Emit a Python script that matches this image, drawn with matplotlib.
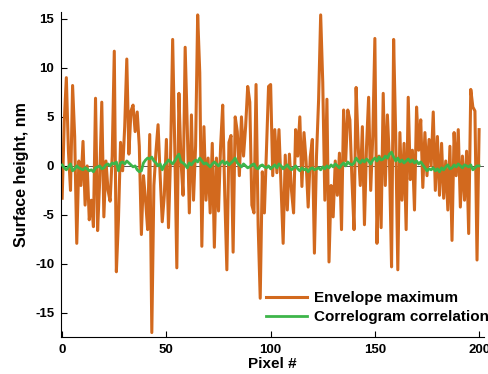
import numpy as np
import matplotlib
matplotlib.use("Agg")
import matplotlib.pyplot as plt

# Envelope maximum, one value per pixel (0..200)
envelope = [
    -3.3, 4.5, 9.0, 1.5, -2.5, 8.2, 3.0, -7.9, 0.5, -2.0,
    2.5, -4.0, 0.0, -5.5, -3.5, -6.2, 6.9, -6.6, -1.5, 6.5,
    -5.2, 0.5, -2.5, -3.6, 1.0, 11.7, -10.8, -5.5, 2.4, -0.5,
    4.0, 10.9, 1.2, 5.6, 6.2, 3.5, 5.5, 2.0, -7.0, -1.0,
    -3.5, -6.5, 3.2, -17.0, -2.0, 1.5, 4.2, -1.0, -5.7, -3.0,
    2.7, -6.3, 1.0, 12.9, 2.0, -10.4, 7.4, 0.5, -3.0, 12.1,
    4.0, -4.8, 5.2, -3.5, 2.0, 15.4, 9.5, -8.2, 4.0, -3.5,
    0.8, -4.8, 2.3, -8.3, 0.8, -4.6, 2.0, 6.2, -3.0, -10.6,
    2.4, 3.1, -8.8, 5.0, 3.5, -1.0, 5.0, 1.0, 4.0, 8.1,
    6.5, -4.0, -4.8, 8.3, -6.0, -13.5, -0.6, -4.8, 1.5, 8.1,
    8.3, -1.0, 3.7, -0.7, 3.7, -2.0, -7.9, 1.1, -4.5, 1.2,
    -2.5, -4.8, 3.7, 1.0, 5.0, -2.1, 3.4, 0.5, -4.2, 0.9,
    2.7, -8.9, 1.0, 6.7, 15.4, 8.5, -3.5, 6.8, -9.8, -2.0,
    -5.2, 0.5, -3.0, 1.3, -6.5, 5.7, 0.5, 5.7, 4.7, -1.4,
    -6.5, 8.0, 2.0, -2.0, 4.0, -6.0, 2.0, 7.0, -2.5, 3.0,
    13.0, -7.9, 1.0, -6.3, 7.4, -2.0, 5.2, 0.5, -10.3, 12.9,
    3.0, -10.6, 3.4, -3.5, 2.3, -6.5, 7.0, -1.4, 1.6, -4.5,
    6.0, 1.6, 4.7, -2.2, 3.4, -1.0, 2.7, 0.0, 5.5, -2.5,
    3.0, -3.0, 2.3, -3.3, 0.5, -4.5, 2.0, -7.6, 3.4, -1.0,
    3.7, -4.2, 1.0, -3.5, 1.5, -6.9, 7.8, 6.0, 5.6, -9.6,
    3.7,
]

# Correlogram correlation
correlogram = [
    0.1, -0.2, -0.4, -0.1, 0.2, -0.5, -0.3, 0.0, -0.2, -0.3,
    -0.4, -0.2, -0.3, -0.5, -0.4, -0.6, -0.2, -0.1, 0.0, -0.3,
    -0.2, 0.1, 0.2, 0.0, 0.3, 0.2, 0.4, -0.5, 0.3, 0.4,
    0.2, 0.5, 0.3, 0.1, -0.1, 0.0, -0.4, -0.6, -0.5, 0.3,
    0.6, 0.8, 0.7, 0.9, 0.5, 0.3, 0.0, 0.2, -0.4, 0.1,
    0.3, 0.6, 0.4, 0.2, 0.5, 0.9, 1.2, 0.4, 0.3, 0.1,
    -0.2, 0.3, 0.1, 0.4, 0.6, 0.4, 0.8, 0.5, 0.2, 0.3,
    0.1, -0.1, 0.2, 0.4, 0.2, 0.0, 0.3, 0.5, 0.2, 0.4,
    0.1, 0.3, 0.5, 0.8, 0.3, 0.1, -0.1, 0.2, 0.0, -0.2,
    -0.1, 0.1, 0.2, -0.2, -0.3, 0.0, 0.1, -0.1, -0.2, 0.0,
    -0.3, -0.1, 0.1, -0.2, 0.2, 0.0, -0.3, -0.1, 0.1, -0.2,
    -0.4, -0.2, 0.0, -0.3, -0.5, -0.2, -0.4, -0.3, -0.6, -0.3,
    -0.2, -0.4, -0.3, -0.2, -0.4, -0.1, -0.3, 0.0, -0.2, 0.1,
    -0.1, 0.2, 0.0, -0.2, 0.1, 0.3, 0.0, 0.4, 0.2, 0.1,
    0.3, 0.8, 0.5, 0.3, 0.6, 0.4, 0.7, 0.5, 0.2, 0.6,
    0.8, 0.5, 0.9, 0.6, 0.7, 1.0, 0.8, 1.2, 1.4, 0.9,
    0.5, 0.8, 0.4, 0.6, 0.3, 0.5, 0.7, 0.4, 0.6, 0.3,
    0.5, 0.2, 0.4, 0.1, -0.2, -0.5, -0.3, -0.4, -0.2, -0.5,
    -0.3, -0.6, -0.2, -0.4, -0.1, 0.1, -0.3, -0.2, 0.1, -0.1,
    0.2, 0.0, -0.2, 0.1, 0.0, -0.1, 0.1, -0.4, -0.2, 0.0,
    0.0,
]

pixels = np.arange(len(envelope))

plt.rcParams['font.family'] = ['Liberation Sans', 'DejaVu Sans']
plt.rcParams['font.weight'] = 'bold'
plt.rcParams['axes.unicode_minus'] = False

fig = plt.figure(figsize=(4.89, 3.74), dpi=100)
ax = fig.add_axes([0.125, 0.099, 0.865, 0.869])

ax.axhline(0, color='#555555', lw=0.7, zorder=1)
ax.plot(pixels, envelope, color='#D2691E', lw=2.2, label='Envelope maximum', zorder=2)
ax.plot(pixels, correlogram, color='#3DB54A', lw=2.0, label='Correlogram correlation', zorder=3)

ax.set_xlim(-0.5, 202.4)
ax.set_ylim(-17.45, 15.7)
ax.set_xticks([0, 50, 100, 150, 200])
ax.set_yticks([-15, -10, -5, 0, 5, 10, 15])
ax.tick_params(direction='in', length=4, width=0.8, labelsize=9.5, pad=5)
for lab in ax.get_xticklabels() + ax.get_yticklabels():
    lab.set_fontweight('bold')

ax.spines['top'].set_visible(False)
ax.spines['right'].set_visible(False)
for s in ['left', 'bottom']:
    ax.spines[s].set_linewidth(0.8)

ax.set_xlabel('Pixel #', fontsize=11, fontweight='bold', labelpad=1)
ax.set_ylabel('Surface height, nm', fontsize=11.5, fontweight='bold', labelpad=4)

leg = ax.legend(loc='lower right', bbox_to_anchor=(1.025, 0.02), frameon=False,
                fontsize=11, handlelength=2.7, handletextpad=0.4,
                borderaxespad=0.0, labelspacing=0.35)
for t in leg.get_texts():
    t.set_fontweight('bold')

fig.savefig('out.png', dpi=100)
